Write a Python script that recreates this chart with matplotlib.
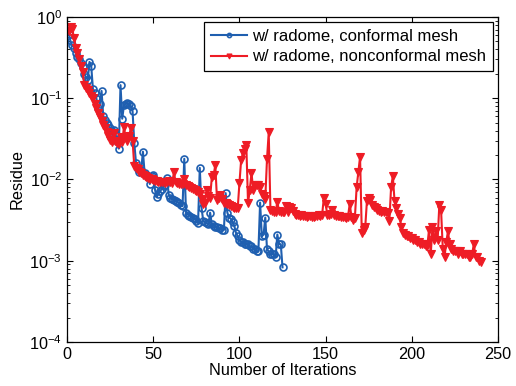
import numpy as np
import matplotlib.pyplot as plt

plt.rcParams['font.family'] = ['Liberation Sans', 'DejaVu Sans']

# residue per iteration, conformal mesh (iterations 1..125)
res_conf = [
    0.62, 0.50, 0.45, 0.42, 0.36, 0.32, 0.30, 0.27, 0.24, 0.20,
    0.18, 0.17, 0.28, 0.25, 0.13, 0.115, 0.10, 0.076, 0.085, 0.123,
    0.060, 0.054, 0.050, 0.047, 0.043, 0.040, 0.041, 0.037, 0.030, 0.024,
    0.145, 0.056, 0.082, 0.086, 0.087, 0.085, 0.080, 0.069, 0.028, 0.016,
    0.0135, 0.0125, 0.0130, 0.022, 0.0120, 0.0112, 0.0108, 0.0088, 0.0110, 0.0113,
    0.0075, 0.0061, 0.0066, 0.0072, 0.0077, 0.0082, 0.0086, 0.0104, 0.0064, 0.0060,
    0.0058, 0.0056, 0.0055, 0.0053, 0.0051, 0.0049, 0.0047, 0.018, 0.0039, 0.0037,
    0.0036, 0.0035, 0.0034, 0.0033, 0.0031, 0.0029, 0.0139, 0.0045, 0.0031, 0.0030,
    0.0029, 0.0028, 0.0039, 0.0028, 0.0027, 0.0026, 0.0026, 0.0025, 0.0025, 0.0024,
    0.0024, 0.0068, 0.0039, 0.0034, 0.0033, 0.0030, 0.0027, 0.0022, 0.0020, 0.0018,
    0.0017, 0.0017, 0.0016, 0.0016, 0.0016, 0.0015, 0.0015, 0.0014, 0.0014, 0.0013,
    0.0013, 0.0052, 0.0020, 0.0021, 0.0034, 0.0014, 0.0013, 0.0012, 0.0012, 0.0012,
    0.0011, 0.0021, 0.0016, 0.0016, 0.00083,
]

# residue per iteration, nonconformal mesh (iterations 1..240)
res_nonconf = [
    0.68, 0.75, 0.72, 0.55, 0.42, 0.36, 0.30, 0.25, 0.21, 0.145,
    0.135, 0.125, 0.115, 0.108, 0.100, 0.085, 0.075, 0.066, 0.058, 0.052,
    0.047, 0.043, 0.038, 0.034, 0.031, 0.029, 0.037, 0.030, 0.028, 0.027,
    0.033, 0.029, 0.044, 0.032, 0.030, 0.034, 0.043, 0.030, 0.0145, 0.0140,
    0.0135, 0.0125, 0.0120, 0.0115, 0.0110, 0.0108, 0.0105, 0.0102, 0.0100, 0.0098,
    0.0096, 0.0097, 0.0094, 0.0093, 0.0092, 0.0094, 0.0091, 0.0092, 0.0095, 0.0093,
    0.0090, 0.0123, 0.0092, 0.0090, 0.0089, 0.0088, 0.0087, 0.0101, 0.0085, 0.0082,
    0.0080, 0.0078, 0.0076, 0.0074, 0.0072, 0.0070, 0.0066, 0.0058, 0.0050, 0.0052,
    0.0074, 0.0062, 0.0060, 0.0108, 0.0112, 0.0150, 0.0056, 0.0060, 0.0064, 0.0058,
    0.0052, 0.0051, 0.0050, 0.0048, 0.0047, 0.0046, 0.0045, 0.0045, 0.0044, 0.0090,
    0.0174, 0.0210, 0.0235, 0.0266, 0.0051, 0.0075, 0.0120, 0.0075, 0.0086, 0.0086,
    0.0085, 0.0080, 0.0066, 0.0062, 0.0058, 0.0178, 0.0380, 0.0042, 0.0041, 0.0040,
    0.0040, 0.0053, 0.0041, 0.0040, 0.0040, 0.0040, 0.0047, 0.0040, 0.0046, 0.0045,
    0.0041, 0.0038, 0.0037, 0.0037, 0.0036, 0.0037, 0.0036, 0.0036, 0.0035, 0.0036,
    0.0036, 0.0035, 0.0035, 0.0036, 0.0036, 0.0037, 0.0036, 0.0037, 0.0060, 0.0050,
    0.0037, 0.0037, 0.0038, 0.0042, 0.0037, 0.0036, 0.0036, 0.0036, 0.0035, 0.0035,
    0.0035, 0.0034, 0.0035, 0.0050, 0.0035, 0.0032, 0.0034, 0.0080, 0.0123, 0.0190,
    0.0022, 0.0024, 0.0026, 0.0055, 0.0060, 0.0056, 0.0048, 0.0046, 0.0044, 0.0042,
    0.0041, 0.0040, 0.0041, 0.0040, 0.0040, 0.0039, 0.0031, 0.0080, 0.0110, 0.0055,
    0.0044, 0.0038, 0.0034, 0.0026, 0.0022, 0.0021, 0.0020, 0.0020, 0.0019, 0.0019,
    0.0018, 0.0018, 0.0017, 0.0017, 0.0016, 0.0016, 0.0016, 0.0015, 0.0015, 0.0024,
    0.0012, 0.0026, 0.0018, 0.0023, 0.0018, 0.0049, 0.0042, 0.0014, 0.0011, 0.0017,
    0.0023, 0.0016, 0.0014, 0.0013, 0.0013, 0.0013, 0.0012, 0.0013, 0.0012, 0.0012,
    0.0012, 0.0012, 0.0011, 0.0011, 0.0012, 0.0016, 0.0011, 0.0011, 0.0010, 0.00097,
]

labels = ['w/ radome, conformal mesh', 'w/ radome, nonconformal mesh']

it_conf = np.arange(1, len(res_conf) + 1)
it_nonconf = np.arange(1, len(res_nonconf) + 1)

fig = plt.figure(figsize=(5.16, 3.86), dpi=100)
ax = fig.add_axes([0.130, 0.114, 0.835, 0.842])

blue = '#1f5fb0'
red = '#ee1c25'
ax.semilogy(it_conf, res_conf, '-o', color=blue, lw=1.5, ms=5,
            mfc='none', mew=1.2, label=labels[0])
ax.semilogy(it_nonconf, res_nonconf, '-v', color=red, lw=1.5, ms=6,
            mfc=red, mew=0.8, label=labels[1])

ax.set_xlim(0, 250)
ax.set_ylim(1e-4, 1)
ax.set_xticks([0, 50, 100, 150, 200, 250])
ax.set_xlabel('Number of Iterations', fontsize=11.7, labelpad=1)
ax.set_ylabel('Residue', fontsize=11.7, labelpad=3)
ax.tick_params(which='both', direction='in', top=True, right=True, labelsize=11.7)
ax.tick_params(which='major', length=4)
ax.tick_params(which='minor', length=2)
for s in ax.spines.values():
    s.set_linewidth(0.9)

leg = ax.legend(loc='upper right', fontsize=12, fancybox=False, framealpha=1,
                edgecolor='black', handlelength=2.2, borderpad=0.4,
                labelspacing=0.35, handletextpad=0.3, borderaxespad=0.3,
                markerscale=0.6)
leg.get_frame().set_linewidth(0.9)

fig.savefig('out.png', dpi=100)
